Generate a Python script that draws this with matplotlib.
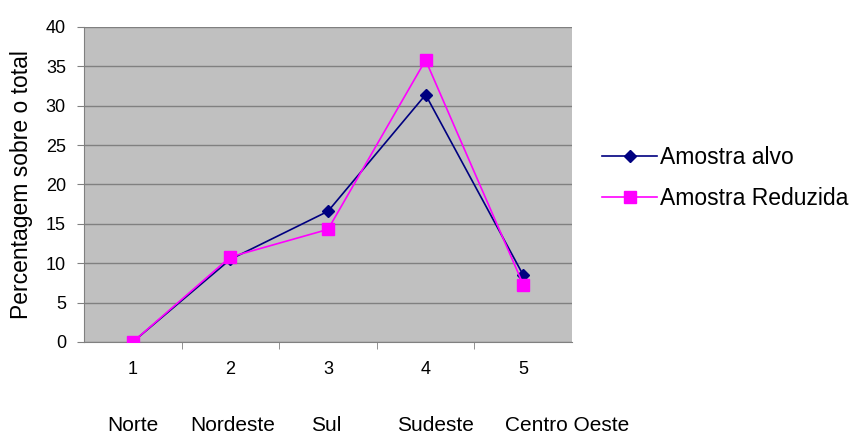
import numpy as np
import matplotlib.pyplot as plt

plt.rcParams['font.family'] = ['Liberation Sans', 'DejaVu Sans']

# dados
categorias = [1, 2, 3, 4, 5]
regioes = ['Norte', 'Nordeste', 'Sul', 'Sudeste', 'Centro Oeste']
regioes_x = [1, 2.02, 2.98, 4.1, 5.45]
amostra_alvo = [0.0, 10.5, 16.6, 31.4, 8.5]
amostra_reduzida = [0.0, 10.8, 14.3, 35.8, 7.3]

fig = plt.figure(figsize=(8.57, 4.36), dpi=100)
ax = fig.add_axes([84 / 857, 1 - 342 / 436, (572 - 84) / 857, (342 - 27) / 436])
ax.set_facecolor('#c0c0c0')

ax.plot(categorias, amostra_alvo, color='#000080', lw=1.2, marker='D',
        ms=6, label='Amostra alvo', zorder=3)
ax.plot(categorias, amostra_reduzida, color='#ff00ff', lw=1.2, marker='s',
        ms=8, label='Amostra Reduzida', zorder=3)

ax.set_xlim(0.5, 5.5)
ax.set_ylim(0, 40)
ax.set_yticks(np.arange(0, 41, 5))
ax.set_xticks(categorias)
ax.set_xticks([1.5, 2.5, 3.5, 4.5], minor=True)
ax.tick_params(axis='x', which='major', length=0, pad=14, labelsize=13)
ax.tick_params(axis='x', which='minor', length=5, color='#808080')
ax.tick_params(axis='y', length=5, color='#808080', labelsize=13, pad=8)
ax.yaxis.grid(True, color='#808080', lw=1)
ax.set_axisbelow(True)

for s in ['top', 'right']:
    ax.spines[s].set_visible(False)
for s in ['left', 'bottom']:
    ax.spines[s].set_color('#808080')

ax.set_ylabel('Percentagem sobre o total', fontsize=16.5, labelpad=9)

# nomes das regiões
for xr, nome in zip(regioes_x, regioes):
    ax.text(xr, -0.265, nome, transform=ax.get_xaxis_transform(),
            ha='center', va='center', fontsize=15)

ax.legend(loc='center left', bbox_to_anchor=(1.02, 0.52), frameon=False,
          fontsize=16.5, handlelength=2.4, handletextpad=0.1, labelspacing=0.8)

fig.savefig('out.png', dpi=100)
